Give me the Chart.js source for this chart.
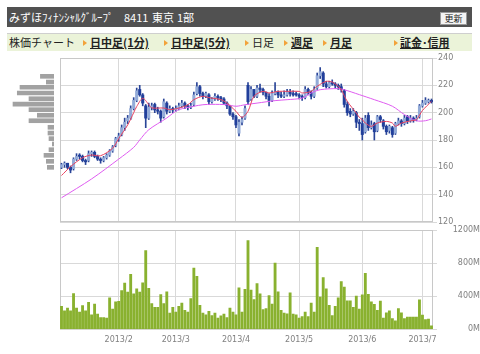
<!DOCTYPE html>
<html>
<head>
<meta charset="utf-8">
<script src="https://cdn.jsdelivr.net/npm/chart.js@4.4.0/dist/chart.umd.min.js"></script>
<style>
  body { margin: 0; width: 480px; height: 354px; background: #fff; position: relative; overflow: hidden;
         font-family: "Noto Sans CJK JP", sans-serif; }
  .hdr { position: absolute; left: 7px; top: 7px; width: 465px; height: 20px; background: #515151; color: #fff; font-size: 11px; }
  .hdr span { position: absolute; top: 0; line-height: 20px; white-space: nowrap; }
  .btn { position: absolute; left: 433px; top: 5px; width: 25px; height: 11px; background: #f4f4f4; border: 1px solid #999;
         color: #222; font-size: 9px; line-height: 11px; text-align: center; }
  .nav { position: absolute; left: 7px; top: 33px; width: 465px; height: 17px; background: #ebf3d9; border-top: 1px solid #cfcfcf;
         font-size: 11px; color: #222; }
  .nav span { position: absolute; top: 0; line-height: 17px; white-space: nowrap; }
  .nav .lnk { font-weight: bold; text-decoration: underline; }
  .nav .tri { width: 0; height: 0; top: 6px; border-left: 4px solid #f2a23a; border-top: 3px solid transparent; border-bottom: 3px solid transparent; }
  canvas { position: absolute; left: 0; }
</style>
</head>
<body>
<div class="hdr">
  <span style="left:2px">みずほﾌｨﾅﾝｼｬﾙｸﾞﾙｰﾌﾟ</span>
  <span style="left:117px">8411</span>
  <span style="left:145px">東京</span>
  <span style="left:170px">1部</span>
  <div class="btn">更新</div>
</div>
<div class="nav">
  <span style="left:2px">株価チャート</span>
  <span class="tri" style="left:76px"></span><span class="lnk" style="left:83px">日中足(1分)</span>
  <span class="tri" style="left:157px"></span><span class="lnk" style="left:164px">日中足(5分)</span>
  <span class="tri" style="left:238px"></span><span style="left:245px">日足</span>
  <span class="tri" style="left:277px"></span><span class="lnk" style="left:284px">週足</span>
  <span class="tri" style="left:316px"></span><span class="lnk" style="left:323px">月足</span>
  <span class="tri" style="left:387px"></span><span class="lnk" style="left:393px">証金･信用</span>
</div>

<canvas id="priceChart" width="480" height="180" style="top:50px"></canvas>
<canvas id="histChart" width="54" height="164" style="top:58px"></canvas>
<canvas id="volChart" width="480" height="132" style="top:222px"></canvas>

<script>
// month boundaries (index of first trading day) and their labels
var monthTickIdx = [19, 38, 58, 79, 100, 120];
var monthLabels = ["2013/2", "2013/3", "2013/4", "2013/5", "2013/6", "2013/7"];
var priceTicks = [120, 140, 160, 180, 200, 220, 240];
var volTicks = [0, 400, 800, 1200];

// daily prices (yen), Jan 2013 - Jul 2013
var openP = [160,162,163,160,159,166,169,168,165,165, 170,171,168,166,165,167,169,172,176,181,
             184,189,194,196,203,209,217,213,205,196, 204,206,202,201,197,207,201,203,202,203,
             205,207,205,204,206,214,219,214,212,213, 208,210,212,211,210,207,205,199,197,185,
             193,196,220,210,217,212,218,217,215,212, 209,214,215,213,212,213,215,214,214,213,
             212,211,217,215,212,218,227,229,221,219, 222,221,220,219,216,206,201,199,200,193,
             192,186,198,189,192,187,197,194,190,187, 189,185,192,194,192,197,194,196,195,197,
             205,207,208,209];
var highP = [163,164,163,161,167,170,170,169,166,172, 172,172,169,167,168,170,173,176,182,185,
             191,196,198,205,211,218,220,214,206,207, 207,207,204,202,210,208,205,204,205,207,
             209,208,206,207,215,222,220,215,215,214, 211,214,213,212,211,208,205,200,198,195,
             197,205,222,219,217,220,221,218,215,214, 216,222,216,215,216,217,217,216,215,214,
             213,219,218,216,219,229,233,230,223,223, 224,222,221,221,217,208,203,203,201,195,
             196,198,200,194,193,198,198,195,191,191, 190,193,196,195,198,198,198,197,198,206,
             209,211,210,210];
var lowP = [159,160,159,156,158,165,166,164,162,164, 168,167,165,163,164,166,168,171,175,179,
            183,187,192,195,202,208,212,205,189,195, 202,200,199,193,196,199,200,200,201,202,
            204,203,202,203,205,213,212,210,211,206, 207,209,209,208,206,203,198,195,189,183,
            191,195,206,209,211,211,215,213,210,205, 208,213,211,211,211,212,212,212,212,210,
            209,210,213,210,211,217,225,219,218,218, 220,218,217,215,204,198,197,198,189,187,
            180,185,187,188,180,186,193,188,184,185, 182,184,191,190,191,192,193,193,194,196,
            204,206,207,207];
var closeP = [162,163,160,158,166,168,168,165,164,170, 171,168,166,165,167,169,172,175,181,183,
              189,193,196,203,209,216,213,207,196,204, 205,202,201,196,208,201,203,202,203,205,
              207,205,204,205,213,219,214,212,214,208, 210,212,211,210,207,205,199,197,191,193,
              195,203,208,217,212,218,217,215,212,209, 214,215,213,212,213,215,214,213,213,212,
              211,217,215,212,217,227,230,221,219,222, 221,220,219,217,206,200,199,201,193,192,
              184,196,189,191,186,197,195,190,186,190, 184,192,194,192,196,194,196,195,196,205,
              207,209,209,208];

// volume (million shares)
var volume = [278,224,257,224,433,257,208,286,224,327, 176,306,184,143,143,135,380,245,331,339,
              469,559,449,665,429,490,449,563,951,494, 310,265,265,420,310,453,196,265,208,278,
              318,229,208,371,739,641,290,196,176,216, 167,196,135,163,184,143,257,208,176,502,
              208,482,1073,473,359,551,429,237,249,408, 306,800,453,229,196,188,441,184,176,135,
              155,208,155,318,208,992,388,624,490,290, 167,278,380,576,510,343,343,267,400,243,
              416,676,424,331,303,230,341,137,198,222, 129,101,251,198,129,147,147,147,147,355,
              171,118,122,41];

// moving averages (day index, yen)
var maShortIdx = [0,3,7,10,13,17,19,22,24,25,27,29,30,34,36,39,42,44,47,49,53,55,58,60,62,64,67,69,72,75,
                  79,80,83,85,88,90,92,93,95,98,99,100,101,103,105,108,110,111,113,116,118,120,123];
var maShortVal = [154,160.5,167,169,168.5,174,181,191,200,204.5,210.5,206,203.5,203.4,202.2,203.4,205.8,209.5,212,211,
                  209.5,207,201,196.6,201,212,215.6,214.4,215.6,215.6,215.6,214.4,215.6,219.3,222.9,222.4,219.3,216.8,
                  208.3,199.8,196.6,194.9,192.4,190,192.4,193.6,192.4,190,192.4,194,195,201.6,208.3];
var maLongIdx = [0,10,19,24,26,29,35,37,39,44,47,50,55,58,61,65,71,75,80,83,86,92,94,99,104,110,114,118,121,123];
var maLongVal = [137.7,151.5,166,174.6,180,187.5,196.1,199.5,202.2,204.7,205.8,206.1,205.8,204.7,205.8,207,208.8,
                 209.5,210.7,214.4,216.8,217.6,216.8,213.2,209.5,204.7,198.6,194.1,194.1,195.4];

// volume by price (left histogram)
var histPrice = [226.6,222.4,218.6,214.4,210.2,206.3,202.2,198.1,194.1,189.3,185.1,181.0,177.1,172.9,168.8,164.4,160.0];
var histVol = [13.6,7.7,34,36.7,25,41,25,16.7,25,6,6,5,1.7,5,10,7.7,6.7];

var GRID = "#d9d9d9";
var TICK_FONT = { family: "DejaVu Sans", size: 8 };

var framePlugin = {
  id: "frame",
  beforeDatasetsDraw: function(chart) {
    var a = chart.chartArea, c = chart.ctx;
    c.save();
    c.strokeStyle = "#c8c8c8";
    c.lineWidth = 1;
    c.strokeRect(Math.round(a.left) + 0.5, Math.round(a.top) + 0.5,
                 Math.round(a.right - a.left) - 1, Math.round(a.bottom - a.top) - 1);
    c.restore();
  }
};

function monthAxis(showLabels) {
  return {
    type: "linear",
    offset: false,
    min: -0.5,
    max: closeP.length - 0.5,
    afterBuildTicks: function(s) { s.ticks = monthTickIdx.map(function(v) { return { value: v }; }); },
    ticks: {
      display: showLabels, autoSkip: false, maxRotation: 0, color: "#808080", font: TICK_FONT, padding: 6,
      callback: function(v) { return monthLabels[monthTickIdx.indexOf(v)]; }
    },
    grid: { color: GRID, drawTicks: false, offset: false },
    border: { display: false },
    afterFit: function(s) { s.height = showLabels ? 24.7 : 0; }
  };
}

Chart.defaults.animation = false;

function getPriceChart() {
  var ctx = document.getElementById("priceChart").getContext("2d");
  var isUp = function(i) { return closeP[i] >= openP[i]; };
  new Chart(ctx, {
    type: "bar",
    data: {
      datasets: [{
        type: "line",
        data: maShortIdx.map(function(d, k) { return { x: d, y: maShortVal[k] }; }),
        borderColor: "#e8415f", borderWidth: 1, pointRadius: 0, tension: 0.3, order: 0
      }, {
        type: "line",
        data: maLongIdx.map(function(d, k) { return { x: d, y: maLongVal[k] }; }),
        borderColor: "#df5cf0", borderWidth: 1, pointRadius: 0, tension: 0.3, order: 1
      }, {
        // candle bodies
        data: openP.map(function(o, i) { return { x: i, y: [o, closeP[i]] }; }),
        backgroundColor: function(c) { return isUp(c.dataIndex) ? "#93abd8" : "#213f9b"; },
        borderWidth: 0,
        barThickness: 2.4, grouped: false, order: 2
      }, {
        // high-low wicks
        data: lowP.map(function(l, i) { return { x: i, y: [l, highP[i]] }; }),
        backgroundColor: "#2a4598",
        barThickness: 1, grouped: false, order: 3
      }]
    },
    options: {
      responsive: false,
      devicePixelRatio: 1,
      layout: { padding: { left: 60, top: 8, bottom: 8, right: 0 } },
      plugins: { legend: { display: false }, tooltip: { enabled: false } },
      scales: {
        x: monthAxis(false),
        y: {
          position: "right", min: 120, max: 240,
          afterBuildTicks: function(s) { s.ticks = priceTicks.map(function(v) { return { value: v }; }); },
          ticks: { color: "#808080", font: TICK_FONT, padding: 1 },
          grid: { color: GRID, tickLength: 4 },
          border: { display: false },
          afterFit: function(s) { s.width = 47; }
        }
      }
    },
    plugins: [framePlugin]
  });
}

function getHistChart() {
  var ctx = document.getElementById("histChart").getContext("2d");
  new Chart(ctx, {
    type: "bar",
    data: {
      datasets: [{
        data: histPrice.map(function(p, k) { return { x: histVol[k], y: p }; }),
        backgroundColor: "#a2a2a2",
        barThickness: 4
      }]
    },
    options: {
      indexAxis: "y",
      responsive: false,
      devicePixelRatio: 1,
      plugins: { legend: { display: false }, tooltip: { enabled: false } },
      scales: {
        y: { type: "linear", offset: false, min: 120, max: 240, display: false },
        x: { type: "linear", min: 0, max: 54, reverse: true, display: false }
      }
    }
  });
}

function getVolChart() {
  var ctx = document.getElementById("volChart").getContext("2d");
  new Chart(ctx, {
    type: "bar",
    data: {
      datasets: [{
        data: volume.map(function(v, i) { return { x: i, y: v }; }),
        backgroundColor: "#89b12f",
        barThickness: 2.2
      }]
    },
    options: {
      responsive: false,
      devicePixelRatio: 1,
      layout: { padding: { left: 60, top: 8, bottom: 0, right: 0 } },
      plugins: { legend: { display: false }, tooltip: { enabled: false } },
      scales: {
        x: monthAxis(true),
        y: {
          position: "right", min: 0, max: 1200,
          afterBuildTicks: function(s) { s.ticks = volTicks.map(function(v) { return { value: v }; }); },
          ticks: { color: "#808080", font: TICK_FONT, padding: 2, crossAlign: "far",
                   callback: function(v) { return v + "M"; } },
          grid: { color: GRID, tickLength: 4 },
          border: { display: false },
          afterFit: function(s) { s.width = 47; }
        }
      }
    },
    plugins: [framePlugin]
  });
}

function init() {
  getPriceChart();
  getHistChart();
  getVolChart();
}

init();
</script>
</body>
</html>
